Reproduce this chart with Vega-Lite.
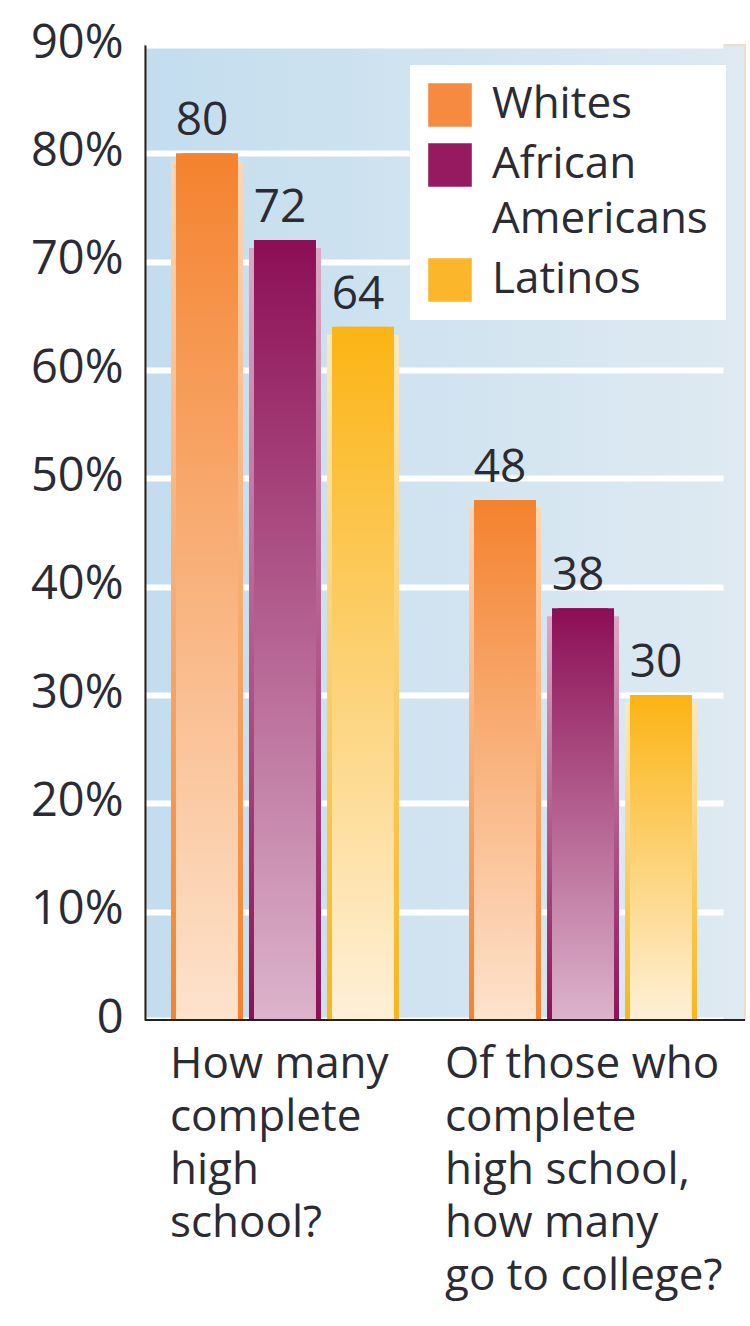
{
  "$schema": "https://vega.github.io/schema/vega-lite/v6.json",
  "width": 600,
  "height": 975,
  "autosize": {"type": "none"},
  "padding": {"left": 145, "top": 45, "right": 5, "bottom": 306},
  "background": "white",
  "config": {
    "font": "Open Sans",
    "style": {"guide-label": {"lineHeight": 55}},
    "view": {
      "fill": {"gradient": "linear", "x1": 0, "y1": 0, "x2": 1, "y2": 0, "stops": [{"offset": 0, "color": "#c3ddee"}, {"offset": 1, "color": "#dfeaf2"}]},
      "stroke": "#f1dcc8",
      "strokeWidth": 2
    }
  },
  "data": {
    "values": [
      {"question": "How many complete high school?", "group": "Whites", "percent": 80},
      {"question": "How many complete high school?", "group": "African Americans", "percent": 72},
      {"question": "How many complete high school?", "group": "Latinos", "percent": 64},
      {"question": "Of those who complete high school, how many go to college?", "group": "Whites", "percent": 48},
      {"question": "Of those who complete high school, how many go to college?", "group": "African Americans", "percent": 38},
      {"question": "Of those who complete high school, how many go to college?", "group": "Latinos", "percent": 30}
    ]
  },
  "layer": [
    {
      "mark": {"type": "bar", "width": 50},
      "encoding": {
        "x": {
          "field": "question", "type": "nominal", "sort": null,
          "scale": {"range": [0, 578], "paddingInner": 0.235, "paddingOuter": 0.0872},
          "axis": {
            "title": null, "domain": false, "ticks": false, "grid": false,
            "labelAngle": 0, "labelAlign": "left", "labelBaseline": "top",
            "labelPadding": 22, "labelFontSize": 44,
            "labelLineHeight": 53, "labelColor": "#2b2b33", "labelLimit": 400,
            "labelOverlap": false,
            "labelExpr": "datum.value == 'How many complete high school?' ? ['How many', 'complete', 'high', 'school?'] : ['Of those who', 'complete', 'high school,', 'how many', 'go to college?']",
            "labelOffset": {"condition": {"test": "datum.value != 'How many complete high school?'", "value": -138}, "value": -115}
          }
        },
        "xOffset": {"field": "group", "type": "nominal", "sort": ["Whites", "African Americans", "Latinos"], "scale": {"paddingInner": 0.0769, "paddingOuter": 0}},
        "y": {
          "field": "percent", "type": "quantitative",
          "scale": {"domain": [0, 90], "nice": false},
          "axis": {
            "title": null, "values": [0, 10, 20, 30, 40, 50, 60, 70, 80, 90],
            "labelExpr": "datum.value == 0 ? '0' : datum.value + '%'",
            "labelFontSize": 47, "labelColor": "#2b2b33", "ticks": false, "labelPadding": 22,
            "labelOffset": -2,
            "domainColor": "#222222", "domainWidth": 2,
            "gridColor": "#ffffff", "gridWidth": 6, "gridOpacity": 1
          }
        },
        "color": {
          "field": "group", "type": "nominal",
          "scale": {"domain": ["Whites", "African Americans", "Latinos"], "range": ["#f58a40", "#961a60", "#fbb62c"]},
          "legend": {
            "title": null, "orient": "none", "legendX": 265, "legendY": 20,
            "symbolType": "square", "symbolSize": 1900, "symbolStrokeWidth": 0,
            "labelFontSize": 44, "labelColor": "#2b2b33", "labelLimit": 400,
            "fillColor": "#ffffff", "padding": 18, "rowPadding": 16, "labelOffset": 20,
            "labelExpr": "datum.label == 'African Americans' ? ['African', 'Americans'] : datum.label"
          }
        }
      }
    },
    {
      "mark": {"type": "bar", "yOffset": 8, "clip": true},
      "encoding": {
        "x": {"field": "question", "type": "nominal", "sort": null},
        "xOffset": {"field": "group", "type": "nominal", "sort": ["Whites", "African Americans", "Latinos"]},
        "y": {"field": "percent", "type": "quantitative"},
        "fill": {
          "condition": [
            {"test": "datum.group === 'Whites'", "value": {"gradient": "linear", "x1": 0, "y1": 0, "x2": 0, "y2": 1, "stops": [{"offset": 0, "color": "#fcd6b6"}, {"offset": 1, "color": "#f3812c"}]}},
            {"test": "datum.group === 'African Americans'", "value": {"gradient": "linear", "x1": 0, "y1": 0, "x2": 0, "y2": 1, "stops": [{"offset": 0, "color": "#dba9c5"}, {"offset": 1, "color": "#8c0e55"}]}}
          ],
          "value": {"gradient": "linear", "x1": 0, "y1": 0, "x2": 0, "y2": 1, "stops": [{"offset": 0, "color": "#fde8bc"}, {"offset": 1, "color": "#f9b418"}]}
        }
      }
    },
    {
      "mark": {"type": "bar", "width": 62},
      "encoding": {
        "x": {"field": "question", "type": "nominal", "sort": null, "bandPosition": 0.4247},
        "xOffset": {"field": "group", "type": "nominal", "sort": ["Whites", "African Americans", "Latinos"]},
        "y": {"field": "percent", "type": "quantitative"},
        "fill": {
          "condition": [
            {"test": "datum.group === 'Whites'", "value": {"gradient": "linear", "x1": 0, "y1": 0, "x2": 0, "y2": 1, "stops": [{"offset": 0, "color": "#f4822e"}, {"offset": 1, "color": "#fde3cd"}]}},
            {"test": "datum.group === 'African Americans'", "value": {"gradient": "linear", "x1": 0, "y1": 0, "x2": 0, "y2": 1, "stops": [{"offset": 0, "color": "#8c0e55"}, {"offset": 1, "color": "#dcb4cc"}]}}
          ],
          "value": {"gradient": "linear", "x1": 0, "y1": 0, "x2": 0, "y2": 1, "stops": [{"offset": 0, "color": "#fbb414"}, {"offset": 1, "color": "#fef0d8"}]}
        }
      }
    },
    {
      "mark": {"type": "text", "dx": -5, "dy": -18, "baseline": "alphabetic", "fontSize": 46, "color": "#2b2b33"},
      "encoding": {
        "x": {"field": "question", "type": "nominal", "sort": null},
        "xOffset": {"field": "group", "type": "nominal", "sort": ["Whites", "African Americans", "Latinos"]},
        "y": {"field": "percent", "type": "quantitative"},
        "text": {"field": "percent", "type": "quantitative"}
      }
    },
    {
      "mark": {"type": "rule", "color": "#222222", "strokeWidth": 2},
      "encoding": {"y": {"datum": 0}}
    }
  ]
}
